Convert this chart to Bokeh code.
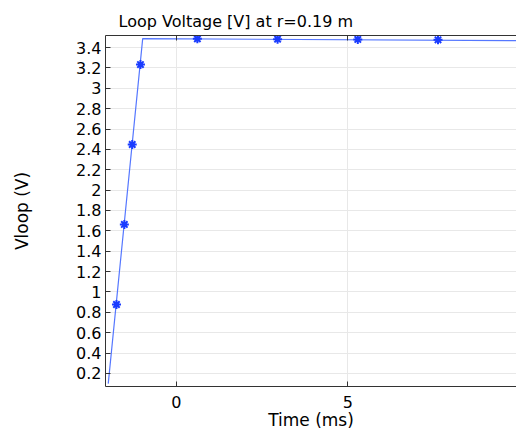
from bokeh.plotting import figure
from bokeh.models import LinearAxis, FixedTicker, Range1d
from bokeh.embed import file_html
from bokeh.resources import INLINE

# Data
line_t = [-1.99, -0.985, 9.95]
line_v = [0.10, 3.487, 3.468]
mark_t = [-1.75, -1.52, -1.29, -1.05, 0.61, 2.95, 5.29, 7.63]
mark_v = [0.877, 1.663, 2.448, 3.233, 3.485, 3.482, 3.479, 3.476]
x_ticks = [0, 5]
y_ticks = [0.2, 0.4, 0.6, 0.8, 1.0, 1.2, 1.4, 1.6, 1.8, 2.0, 2.2, 2.4, 2.6, 2.8, 3.0, 3.2, 3.4]
y_tick_labels = ["0.2", "0.4", "0.6", "0.8", "1", "1.2", "1.4", "1.6", "1.8", "2", "2.2", "2.4", "2.6", "2.8", "3", "3.2", "3.4"]

FONT = "DejaVu Sans"

p = figure(width=516, height=432, output_backend="svg", toolbar_location=None,
           x_range=Range1d(-2.07, 9.92), y_range=Range1d(0.072, 3.518),
           x_axis_location=None, y_axis_location=None,
           min_border_left=105, min_border_right=0, min_border_top=35, min_border_bottom=46,
           title="Loop Voltage [V] at r=0.19 m")
p.outline_line_color = None
p.background_fill_color = "white"
p.border_fill_color = "white"

p.title.text_font = FONT
p.title.text_font_size = "16px"
p.title.text_font_style = "normal"
p.title.align = "left"
p.title.offset = 13
p.title.standoff = 10
p.title.text_color = "#000000"

def style(ax):
    ax.major_tick_in = 5
    ax.major_tick_out = 0
    ax.minor_tick_in = 0
    ax.minor_tick_out = 0
    ax.axis_line_color = "#333333"
    ax.major_tick_line_color = "#333333"
    ax.major_label_text_font = FONT
    ax.major_label_text_font_size = "16px"
    ax.major_label_text_color = "#000000"
    ax.axis_label_text_font = FONT
    ax.axis_label_text_font_size = "17px"
    ax.axis_label_text_font_style = "normal"
    ax.axis_label_text_color = "#000000"

xb = LinearAxis(ticker=FixedTicker(ticks=x_ticks), axis_label="Time (ms)")
style(xb)
xb.major_label_standoff = 9
xb.axis_label_standoff = -1
p.add_layout(xb, "below")

xt = LinearAxis(ticker=FixedTicker(ticks=x_ticks))
style(xt)
xt.major_label_text_font_size = "0px"
xt.major_label_text_color = None
xt.major_label_standoff = 0
p.add_layout(xt, "above")

yl = LinearAxis(ticker=FixedTicker(ticks=y_ticks), axis_label="Vloop (V)")
style(yl)
yl.major_label_overrides = {t: s for t, s in zip(y_ticks, y_tick_labels)}
yl.major_label_standoff = 4
yl.axis_label_standoff = 41
p.add_layout(yl, "left")

p.xgrid.ticker = FixedTicker(ticks=x_ticks)
p.ygrid.ticker = FixedTicker(ticks=y_ticks)
p.xgrid.grid_line_color = "#e8e8e8"
p.ygrid.grid_line_color = "#e8e8e8"

p.line(line_t, line_v, line_color="#5577ff", line_width=1.2)
p.scatter(mark_t, mark_v, marker="asterisk", size=9, line_color="#1a3cff", line_width=2)

open("out.html", "w").write(file_html(p, INLINE))
